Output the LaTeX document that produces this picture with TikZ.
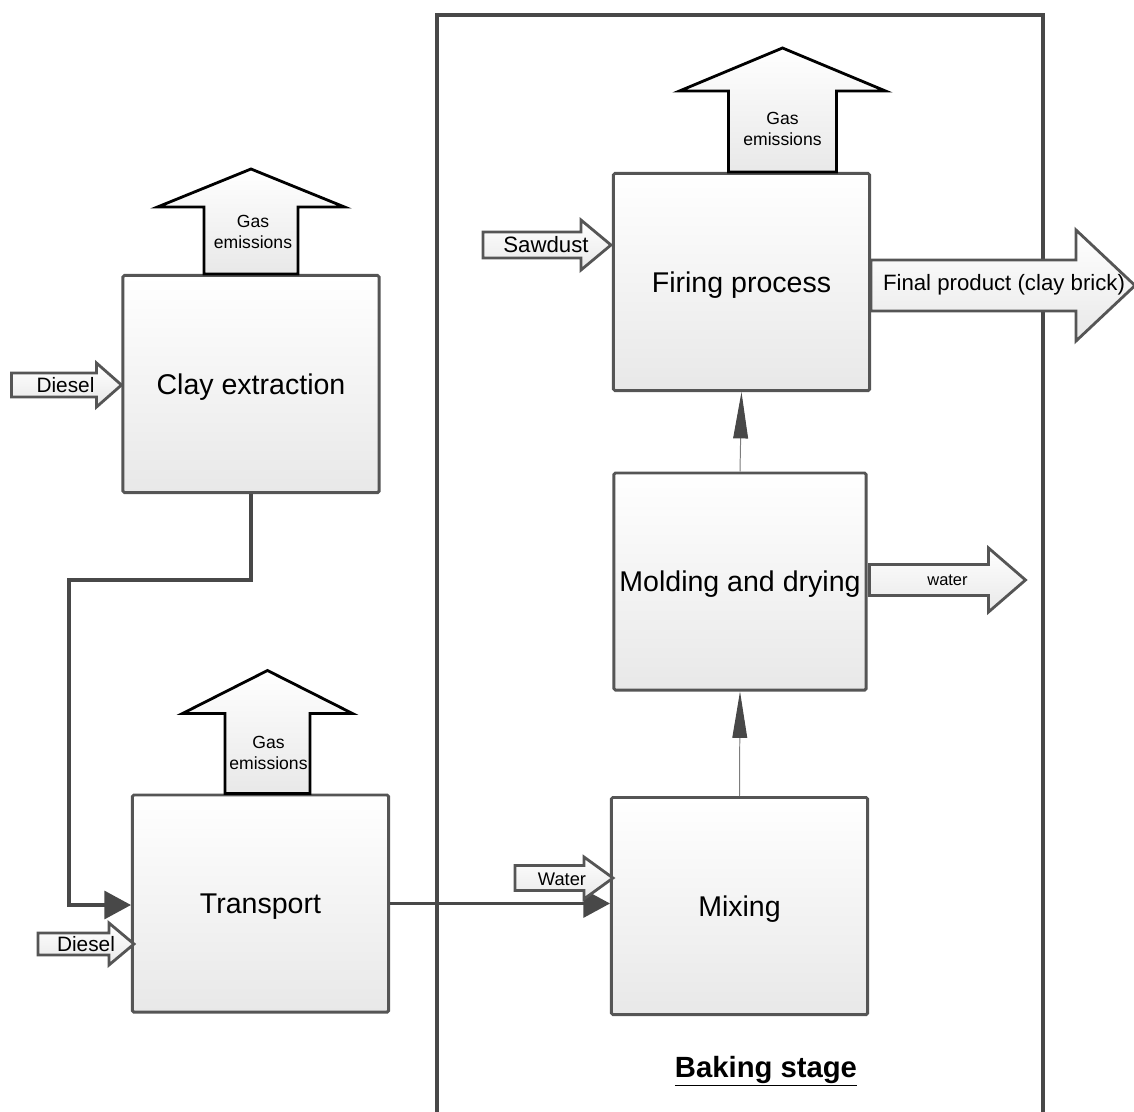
\documentclass[tikz,border=0pt]{standalone}
\usepackage{fontspec}
\setmainfont{Liberation Sans}
\usetikzlibrary{arrows.meta, calc}
\definecolor{boxgray}{RGB}{85,85,85}
\definecolor{linegray}{RGB}{72,72,72}
\definecolor{thingray}{RGB}{125,125,125}

% block arrow: [style] {tail} {angle} {length} {half shaft} {half head} {head length}
\newcommand{\fatarrow}[7][]{%
  \draw[fatarr,#1,shift={#2},rotate=#3] (0,-#5) -- ({#4-#7},-#5) -- ({#4-#7},-#6) -- (#4,0)
    -- ({#4-#7},#6) -- ({#4-#7},#5) -- (0,#5) -- cycle;}

\begin{document}
\begin{tikzpicture}[x=0.025cm, y=-0.025cm,
    proc/.style={draw=boxgray, line width=2.1pt, rounded corners=1pt, top color=white, bottom color=black!9,
                 minimum width=6.4cm, minimum height=5.425cm, inner sep=0pt, text height=14.5pt, text depth=0pt,
                 font=\fontsize{20.3}{24}\selectfont},
    fatarr/.style={draw=boxgray, line width=2pt, top color=white, bottom color=black!9},
    gasarr/.style={draw=black},
    flow/.style={draw=linegray, line width=2.2pt, -{Triangle[length=19pt,width=20pt,color=linegray]}},
    thinflow/.style={draw=thingray, line width=0.7pt, -{Triangle[length=33pt,width=10.5pt,color=linegray]}}]
    \useasboundingbox (0,0) rectangle (1134,1112);

    % Baking stage frame
    \draw[draw=linegray, line width=2.8pt] (437,1115) |- (1043,15) -- (1043,1115);
    \node[font=\fontsize{20.8}{25}\bfseries\selectfont] (baking) at (766,1071) {\underline{Baking stage}};

    % Process boxes
    \node[proc] (clay) at (251,384) {Clay extraction};
    \node[proc] (transport) at (260.5,903.5) {Transport};
    \node[proc] (mixing) at (739.5,906) {Mixing};
    \node[proc, minimum width=6.3cm] (molding) at (740,581.5) {Molding and drying};
    \node[proc] (firing) at (741.5,282) {Firing process};

    % Flows
    \draw[flow] (clay.south) -- ++(0,86) -| ($(transport.west)+(-62,1.5)$) -- ($(transport.west)+(0,1.5)$);
    \draw[flow] (transport.east) -- (transport.east -| mixing.west);
    \draw[thinflow] (mixing.north) -- (molding.south);
    \draw[thinflow] (molding.north) -- (firing.south);

    % Gas emissions
    \fatarrow[gasarr]{($(clay.north)$)}{90}{105}{47}{93.5}{38}
    \node[align=center, font=\fontsize{12.5}{15}\selectfont] (gasclay) at ($(clay.north)+(2,-42)$) {Gas\\emissions};
    \fatarrow[gasarr]{($(transport.north)+(7,0)$)}{90}{123}{42.5}{85}{43}
    \node[align=center, font=\fontsize{12.5}{15}\selectfont] (gastransport) at ($(transport.north)+(8,-41)$) {Gas\\emissions};
    \fatarrow[gasarr]{($(firing.north)+(41,0)$)}{90}{124}{54}{103}{43}
    \node[align=center, font=\fontsize{12.5}{15}\selectfont] (gasfiring) at ($(firing.north)+(41,-43)$) {Gas\\emissions};

    % Inputs
    \fatarrow{($(clay.west)+(-110,1)$)}{0}{110}{12}{22}{25}
    \node[font=\fontsize{14.8}{17}\selectfont] (dieselclay) at ($(clay.west)+(-56,1)$) {Diesel};
    \fatarrow{($(transport.west)+(-93,40.5)$)}{0}{96}{11}{21}{25}
    \node[font=\fontsize{14.8}{17}\selectfont] (dieseltransport) at ($(transport.west)+(-45,40.5)$) {Diesel};
    \fatarrow{($(firing.west)+(-129,-37)$)}{0}{128}{13}{25}{30}
    \node[font=\fontsize{15.8}{19}\selectfont] (sawdust) at ($(firing.west)+(-66,-37)$) {Sawdust};
    \fatarrow{($(mixing.west)+(-95,-28)$)}{0}{98}{12.5}{21}{29}
    \node[font=\fontsize{13}{16}\selectfont] (watermix) at ($(mixing.west)+(-48,-27)$) {Water};

    % Outputs
    \fatarrow{($(molding.east)+(2,-1.5)$)}{0}{156}{15.5}{32}{37}
    \node[font=\fontsize{11.7}{14}\selectfont] (waterout) at ($(molding.east)+(80,-1.5)$) {water};
    \fatarrow{($(firing.east)+(0,3.5)$)}{0}{264}{25.5}{55.5}{59}
    \node[font=\fontsize{15.8}{19}\selectfont] (product) at ($(firing.east)+(133,3)$) {Final product (clay brick)};
\end{tikzpicture}
\end{document}
